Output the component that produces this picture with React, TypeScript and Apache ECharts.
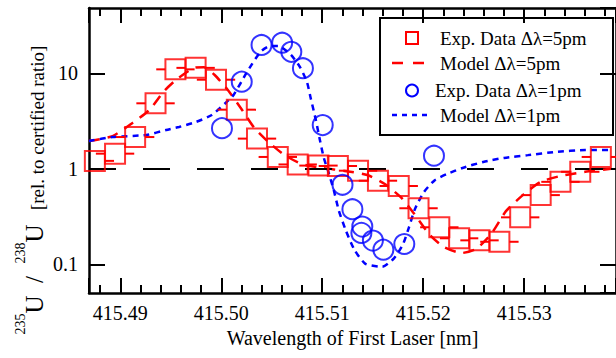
import React, { useEffect, useRef } from 'react';
import * as echarts from 'echarts';

const RED = '#ff0000';
const BLUE = '#0000ff';
const FONT = 'Liberation Serif';

// Exp. Data Δλ=5pm (wavelength nm, ratio)
const exp5X = [415.48748, 415.48948, 415.49147, 415.49349, 415.49546, 415.49746, 415.49948, 415.50154, 415.50354, 415.5056, 415.50757, 415.50963, 415.51155, 415.51355, 415.51552, 415.51758, 415.51954, 415.5216, 415.52356, 415.52558, 415.52755, 415.52961, 415.53164, 415.5336, 415.53556, 415.5376];
const exp5Y = [1.21, 1.44, 2.15, 4.85, 11.0, 11.4, 8.57, 4.16, 2.07, 1.33, 1.11, 1.08, 1.07, 0.955, 0.75, 0.66, 0.386, 0.244, 0.187, 0.178, 0.172, 0.31, 0.53, 0.73, 0.93, 1.33];
const exp5Err = 0.0019;

// Model Δλ=5pm
const model5X = [415.48689, 415.48924, 415.49121, 415.49288, 415.49435, 415.49562, 415.49729, 415.49827, 415.49935, 415.50073, 415.502, 415.50328, 415.50466, 415.50623, 415.50799, 415.51006, 415.51222, 415.51447, 415.51624, 415.5179, 415.51918, 415.52065, 415.52203, 415.52379, 415.52526, 415.52673, 415.5282, 415.52987, 415.53164, 415.5336, 415.53605, 415.5386];
const model5Y = [1.95, 2.2, 3.02, 4.13, 6.53, 8.71, 11.4, 11.6, 9.6, 6.53, 4.23, 2.67, 1.91, 1.4, 1.12, 1.02, 0.95, 0.86, 0.69, 0.49, 0.33, 0.203, 0.152, 0.131, 0.145, 0.207, 0.36, 0.53, 0.73, 0.84, 0.93, 1.0];

// Exp. Data Δλ=1pm
const exp1X = [415.50007, 415.50203, 415.50399, 415.50603, 415.50694, 415.50809, 415.51005, 415.51201, 415.51299, 415.51388, 415.51397, 415.51502, 415.51606, 415.51813, 415.52107];
const exp1Y = [2.66, 8.17, 19.8, 20.9, 16.8, 11.3, 2.87, 0.68, 0.377, 0.213, 0.248, 0.177, 0.142, 0.163, 1.37];

// Model Δλ=1pm
const model1X = [415.48689, 415.48924, 415.49258, 415.49454, 415.49582, 415.49749, 415.49906, 415.50043, 415.50122, 415.50249, 415.50387, 415.50485, 415.50564, 415.50691, 415.5078, 415.50849, 415.50888, 415.50937, 415.50977, 415.51016, 415.51065, 415.51114, 415.51163, 415.51232, 415.5132, 415.51428, 415.51595, 415.51713, 415.51801, 415.5186, 415.51919, 415.52007, 415.52115, 415.52233, 415.5239, 415.52595, 415.52801, 415.53037, 415.53311, 415.53605, 415.5386];
const model1Y = [1.95, 2.15, 2.26, 2.55, 2.74, 3.09, 3.66, 4.89, 5.93, 10.07, 16.7, 19.3, 19.3, 15.6, 11.6, 8.1, 5.38, 3.24, 2.0, 1.3, 0.9, 0.6, 0.37, 0.229, 0.141, 0.101, 0.094, 0.116, 0.163, 0.245, 0.38, 0.57, 0.76, 0.88, 1.02, 1.18, 1.3, 1.39, 1.5, 1.57, 1.57];

const xMin = 415.4869;
const xMax = 415.5391;
const yMin = 0.05;
const yMax = 48.3;
const yTickValues = [0.1, 1, 10];
const yTickLabels = ['0.1', '1', '10'];
const referenceRatio = 1;

const legendLabels = ['Exp. Data Δλ=5pm', 'Model Δλ=5pm', 'Exp. Data Δλ=1pm', 'Model Δλ=1pm'];
const xAxisTitle = 'Wavelength of First Laser [nm]';

const zip = (xs: number[], ys: number[]) => xs.map((x, i) => [x, ys[i]]);

export default function App() {
  const ref = useRef<HTMLDivElement>(null);
  useEffect(() => {
    if (!ref.current) return;
    const chart = echarts.init(ref.current, undefined, { renderer: 'svg' });
    const tickCommon = { inside: true, lineStyle: { color: '#000', width: 2 } };
    const axisLineCommon = { show: true, onZero: false, lineStyle: { color: '#000', width: 2.5 } };
    const yLabelFmt = (v: number) => {
      const i = yTickValues.findIndex((t) => Math.abs(t - v) / t < 1e-6);
      return i >= 0 ? yTickLabels[i] : '';
    };
    const xLabelFmt = (v: number) => {
      const k = Math.round(v * 100);
      return Math.abs(v * 100 - k) < 1e-6 ? (k / 100).toFixed(2) : '';
    };
    const option: any = {
      animation: false,
      backgroundColor: '#fff',
      grid: { left: 89, right: -5, top: 8, bottom: 65, containLabel: false },
      xAxis: [
        {
          type: 'value', position: 'bottom', min: xMin, max: xMax, splitNumber: 5,
          axisLine: axisLineCommon,
          axisTick: { ...tickCommon, length: 15 },
          minorTick: { show: true, splitNumber: 5, length: 8, lineStyle: { color: '#000', width: 2 } },
          splitLine: { show: false },
          axisLabel: { show: true, showMinLabel: false, showMaxLabel: false, formatter: xLabelFmt, color: '#000', fontFamily: FONT, fontSize: 20, margin: 10 },
          name: xAxisTitle, nameLocation: 'middle', nameGap: 35,
          nameTextStyle: { color: '#000', fontFamily: FONT, fontSize: 20 },
        },
        {
          type: 'value', position: 'top', min: xMin, max: xMax, splitNumber: 5,
          axisLine: axisLineCommon,
          axisTick: { ...tickCommon, length: 15 },
          minorTick: { show: true, splitNumber: 5, length: 8, lineStyle: { color: '#000', width: 2 } },
          splitLine: { show: false },
          axisLabel: { show: false },
        },
      ],
      yAxis: [
        {
          type: 'log', logBase: 10, position: 'left', min: yMin, max: yMax,
          axisLine: axisLineCommon,
          axisTick: { ...tickCommon, length: 16 },
          splitLine: { show: false },
          minorTick: { show: false },
          axisLabel: { show: true, showMinLabel: false, showMaxLabel: false, formatter: yLabelFmt, color: '#000', fontFamily: FONT, fontSize: 20, margin: 11 },
        },
        {
          type: 'log', logBase: 10, position: 'right', min: yMin, max: yMax,
          axisLine: axisLineCommon,
          axisTick: { ...tickCommon, length: 16 },
          splitLine: { show: false },
          minorTick: { show: false },
          axisLabel: { show: false },
        },
      ],
      series: [
        {
          type: 'line', name: legendLabels[1], data: zip(model5X, model5Y), showSymbol: false, symbol: 'none', smooth: 0.2,
          lineStyle: { color: RED, width: 2.5, type: [11, 8] }, z: 3,
          markLine: {
            silent: true, symbol: ['none', 'none'], label: { show: false },
            lineStyle: { color: '#000', width: 2, type: [27, 27] },
            data: [{ yAxis: referenceRatio }],
          },
        },
        {
          type: 'line', name: legendLabels[3], data: zip(model1X, model1Y), showSymbol: false, symbol: 'none', smooth: 0.2,
          lineStyle: { color: BLUE, width: 2.5, type: [6, 5] }, z: 3,
        },
        {
          type: 'custom', name: 'err5',
          data: exp5X.map((x, i) => [x, exp5Y[i], exp5Err]),
          clip: true, z: 4,
          renderItem: (params: any, api: any) => {
            const x = api.value(0), y = api.value(1), e = api.value(2);
            const c = api.coord([x, y]);
            const l = api.coord([x - e, y]);
            const r = api.coord([x + e, y]);
            const h = 10;
            return {
              type: 'group',
              children: [
                { type: 'line', shape: { x1: l[0], y1: c[1], x2: c[0] - h, y2: c[1] }, style: { stroke: RED, lineWidth: 2 } },
                { type: 'line', shape: { x1: c[0] + h, y1: c[1], x2: r[0], y2: c[1] }, style: { stroke: RED, lineWidth: 2 } },
              ],
            };
          },
        },
        {
          type: 'scatter', name: legendLabels[0], data: zip(exp5X, exp5Y), symbol: 'rect', symbolSize: 20, clip: true, z: 5,
          itemStyle: { color: 'rgba(0,0,0,0)', borderColor: RED, borderWidth: 2 },
        },
        {
          type: 'scatter', name: legendLabels[2], data: zip(exp1X, exp1Y), symbol: 'circle', symbolSize: 20, clip: true, z: 5,
          itemStyle: { color: 'rgba(0,0,0,0)', borderColor: BLUE, borderWidth: 2 },
        },
      ],
      graphic: [
        {
          type: 'text', x: 30, y: 190, rotation: Math.PI / 2,
          style: {
            text: '{s|235}{u|U}{u|  /  }{s|238}{u|U}{n|   [rel. to certified ratio]}',
            align: 'center', verticalAlign: 'middle', fill: '#000', fontFamily: FONT,
            rich: {
              s: { fontSize: 14, fontFamily: FONT, fill: '#000', lineHeight: 14, verticalAlign: 'top' },
              u: { fontSize: 25, fontFamily: FONT, fill: '#000', lineHeight: 33, verticalAlign: 'bottom' },
              n: { fontSize: 19, fontFamily: FONT, fill: '#000', lineHeight: 26, verticalAlign: 'bottom' },
            },
          },
        },
        {
          type: 'group', z: 100,
          children: [
            { type: 'rect', shape: { x: 380, y: 18, width: 233, height: 117 }, style: { fill: '#fff', stroke: '#000', lineWidth: 2 } },
            { type: 'rect', shape: { x: 406, y: 32, width: 12, height: 12 }, style: { fill: 'none', stroke: RED, lineWidth: 2 } },
            { type: 'line', shape: { x1: 392, y1: 63, x2: 424, y2: 63 }, style: { stroke: RED, lineWidth: 2.5, lineDash: [11, 10] } },
            { type: 'circle', shape: { cx: 412, cy: 90.5, r: 6 }, style: { fill: 'none', stroke: BLUE, lineWidth: 2 } },
            { type: 'line', shape: { x1: 392, y1: 115, x2: 428, y2: 115 }, style: { stroke: BLUE, lineWidth: 2.5, lineDash: [5, 5] } },
            { type: 'text', x: 440, y: 38, style: { text: legendLabels[0], fontFamily: FONT, fontSize: 19, fill: '#000', verticalAlign: 'middle' } },
            { type: 'text', x: 440, y: 63, style: { text: legendLabels[1], fontFamily: FONT, fontSize: 19, fill: '#000', verticalAlign: 'middle' } },
            { type: 'text', x: 435, y: 90, style: { text: legendLabels[2], fontFamily: FONT, fontSize: 19, fill: '#000', verticalAlign: 'middle' } },
            { type: 'text', x: 440, y: 115, style: { text: legendLabels[3], fontFamily: FONT, fontSize: 19, fill: '#000', verticalAlign: 'middle' } },
          ],
        },
      ],
    };
    chart.setOption(option);
    return () => chart.dispose();
  }, []);
  return <div ref={ref} style={{ position: 'fixed', left: 0, top: 0, width: 616, height: 358, background: '#fff' }} />;
}
